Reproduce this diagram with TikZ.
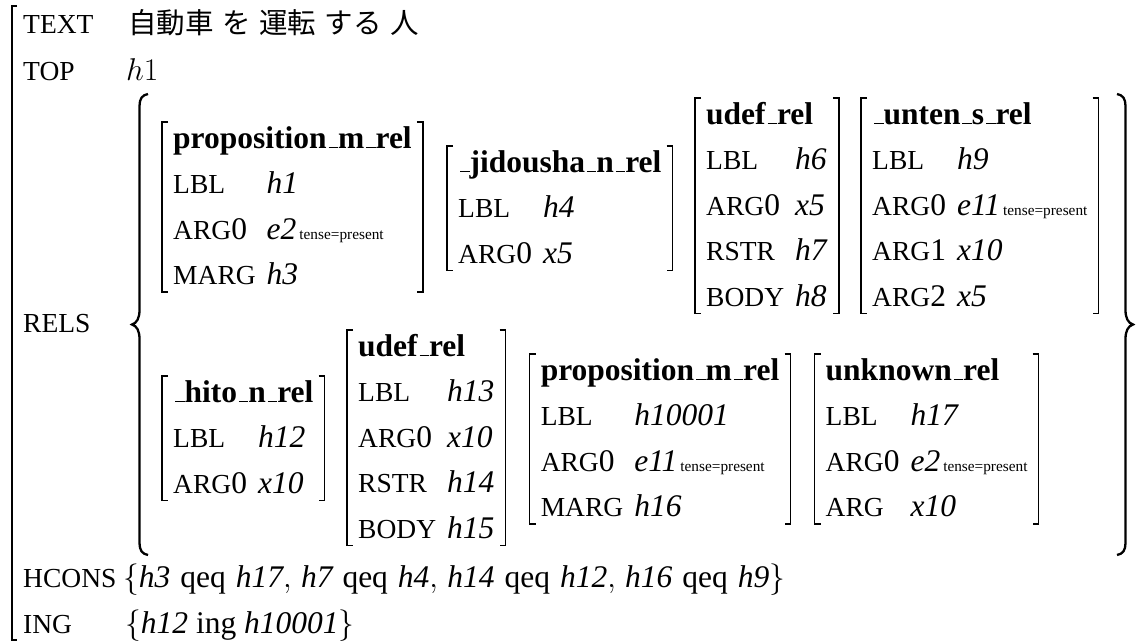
\documentclass[tikz,border=0pt]{standalone}
\usepackage{fix-cm}
\usepackage{fontspec}
\setmainfont{Liberation Serif}
\newfontfamily\jpfont{Noto Sans CJK JP}
\usetikzlibrary{calc}
\newcommand\Fn{\fontsize{31.5}{45.5}\selectfont}
\newcommand\smc[1]{{\fontsize{27.5}{45.5}\selectfont #1}}
\newcommand\us{\leavevmode\kern.06em\vbox{\hrule width.3em height 1.5pt}}
\newcommand\tp{\hspace{3pt}{\fontsize{15.3}{15}\selectfont tense=present}}
\newcommand\avmtab[1]{\begin{tabular}[t]{@{}l@{\hspace{11pt}}l@{}}#1\end{tabular}}
\newcommand\hd[1]{\multicolumn{2}{@{}l@{}}{\textbf{#1}}}
\newcommand\qeq{\hspace{10pt}\mbox{qeq}\hspace{10pt}}
\newcommand\cm{,\hspace{4pt}}
\newcommand\brk[1]{%
  \draw[brk] ($(#1.north west)+(-5,6)$) -- ($(#1.north west)+(-11,6)$) -- ($(#1.south west)+(-11,-6.6)$) -- ($(#1.south west)+(-5,-6.6)$);
  \draw[brk] ($(#1.north east)+(5,6)$) -- ($(#1.north east)+(11,6)$) -- ($(#1.south east)+(11,-6.6)$) -- ($(#1.south east)+(5,-6.6)$);}
\begin{document}
\begin{tikzpicture}[x=1pt,y=-1pt,
  brk/.style={line width=1.5pt},
  bracestyle/.style={line width=2.3pt},
  box/.style={anchor=base west, inner sep=0pt, font=\Fn},
  lab/.style={anchor=base west, inner sep=0pt, font=\Fn}]
\useasboundingbox (0,0) rectangle (1140,641);
\fill[white] (0,0) rectangle (1140,641);
% outer bracket
\draw[brk] (17,6) -- (12,6) -- (12,640) -- (17,640);
% labels and simple values
\node[lab] (ltext) at (23,33) {\smc{TEXT}};
\node[lab] (vtext) at (128,33) {\jpfont\fontsize{28.5}{30}\selectfont 自動車\hspace{8.5pt}を\hspace{8.5pt}運転\hspace{8.5pt}する\hspace{8.5pt}人};
\node[lab] (ltop) at (23,80) {\smc{TOP}};
\node[lab] (vtop) at (126,80) {$h1$};
\node[lab] (lrels) at (23,332) {\smc{RELS}};
\node[lab] (lhc) at (23,587) {\smc{HCONS}};
\node[lab] (vhc) at (123,587) {$\{\textit{h3}\qeq\textit{h17}\cm\textit{h7}\qeq\textit{h4}\cm\textit{h14}\qeq\textit{h12}\cm\textit{h16}\qeq\textit{h9}\}$};
\node[lab] (ling) at (23,633) {\smc{ING}};
\node[lab] (ving) at (125,633) {$\{\textit{h12}\ \mbox{ing}\ \textit{h10001}\}$};
% braces
\draw[bracestyle] (148,94) .. controls (142,95) and (139.5,99) .. (139.5,106) -- (139.5,310) .. controls (139.5,318) and (137,323) .. (132,324.5) .. controls (137,326) and (139.5,331) .. (139.5,339) -- (139.5,543) .. controls (139.5,550) and (142,554) .. (148,555);
\draw[bracestyle] (1117,94) .. controls (1123,95) and (1125.5,99) .. (1125.5,106) -- (1125.5,310) .. controls (1125.5,318) and (1128,323) .. (1133,324.5) .. controls (1128,326) and (1125.5,331) .. (1125.5,339) -- (1125.5,543) .. controls (1125.5,550) and (1123,554) .. (1117,555);
% row 1
\node[box] (p1) at (173,148) {\avmtab{\hd{proposition\us m\us rel}\\ \smc{LBL} & \textit{h1}\\ \smc{ARG}0 & \textit{e2}\tp\\ \smc{MARG} & \textit{h3}}};
\node[box] (jd) at (458,172) {\avmtab{\hd{\us jidousha\us n\us rel}\\ \smc{LBL} & \textit{h4}\\ \smc{ARG}0 & \textit{x5}}};
\node[box] (ud1) at (706,124) {\avmtab{\hd{udef\us rel}\\ \smc{LBL} & \textit{h6}\\ \smc{ARG}0 & \textit{x5}\\ \smc{RSTR} & \textit{h7}\\ \smc{BODY} & \textit{h8}}};
\node[box] (un) at (872,124) {\avmtab{\hd{\us unten\us s\us rel}\\ \smc{LBL} & \textit{h9}\\ \smc{ARG}0 & \textit{e11}\tp\\ \smc{ARG}1 & \textit{x10}\\ \smc{ARG}2 & \textit{x5}}};
% row 2
\node[box] (hi) at (173,402) {\avmtab{\hd{\us hito\us n\us rel}\\ \smc{LBL} & \textit{h12}\\ \smc{ARG}0 & \textit{x10}}};
\node[box] (ud2) at (358,356) {\avmtab{\hd{udef\us rel}\\ \smc{LBL} & \textit{h13}\\ \smc{ARG}0 & \textit{x10}\\ \smc{RSTR} & \textit{h14}\\ \smc{BODY} & \textit{h15}}};
\node[box] (p2) at (ud2.base east) [xshift=46pt, yshift=-24pt] {\avmtab{\hd{proposition\us m\us rel}\\ \smc{LBL} & \textit{h10001}\\ \smc{ARG}0 & \textit{e11}\tp\\ \smc{MARG} & \textit{h16}}};
\node[box] (uk) at (p2.base east) [xshift=46pt] {\avmtab{\hd{unknown\us rel}\\ \smc{LBL} & \textit{h17}\\ \smc{ARG}0 & \textit{e2}\tp\\ \smc{ARG} & \textit{x10}}};
\brk{p1}\brk{jd}\brk{ud1}\brk{un}\brk{hi}\brk{ud2}\brk{p2}\brk{uk}
\end{tikzpicture}
\end{document}
